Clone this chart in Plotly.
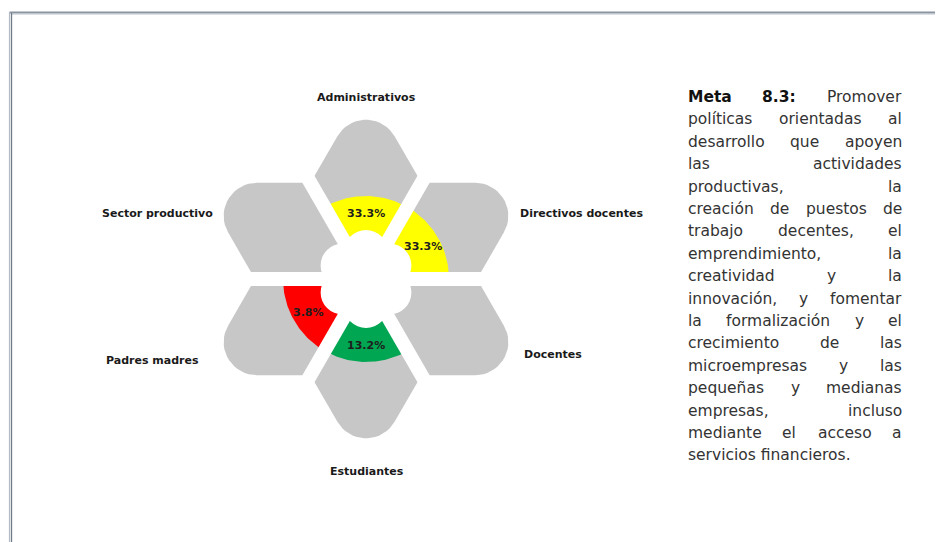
import numpy as np
import plotly.graph_objects as go

# ---------------- data ----------------
categories = ["Administrativos", "Directivos docentes", "Docentes",
              "Estudiantes", "Padres madres", "Sector productivo"]
values = [33.3, 33.3, None, 13.2, 3.8, None]
value_labels = ["33.3%", "33.3%", "", "13.2%", "3.8%", ""]

paragraph_lines = [
    ["<b>Meta</b>", "<b>8.3:</b>", "Promover"],
    ["políticas", "orientadas", "al"],
    ["desarrollo", "que", "apoyen"],
    ["las", "actividades"],
    ["productivas,", "la"],
    ["creación", "de", "puestos", "de"],
    ["trabajo", "decentes,", "el"],
    ["emprendimiento,", "la"],
    ["creatividad", "y", "la"],
    ["innovación,", "y", "fomentar"],
    ["la", "formalización", "y", "el"],
    ["crecimiento", "de", "las"],
    ["microempresas", "y", "las"],
    ["pequeñas", "y", "medianas"],
    ["empresas,", "incluso"],
    ["mediante", "el", "acceso", "a"],
    ["servicios financieros."],
]

# ---------------- style / layout ----------------
petal_angles = [90, 30, -30, -90, -150, 150]
fill_colors = ["#FFFF00", "#FFFF00", None, "#00A651", "#FF0000", None]
label_xy = [(366, 97), (581, 213), (553, 354), (367, 471), (152, 360), (157, 213)]

W, H = 943, 542
OFF = 8                    # page body margin
CX, CY = 366, 279          # flower centre (pixels)
L = 111                    # rhombus side
R_FILL = 83                # coloured band radius
R_LABEL = 66
GAP = 14
GREY = "#C8C7C8"


def to_screen(x, y):
    return CX + np.asarray(x), CY - np.asarray(y)


def rounded_poly(verts, radii, n=18):
    pts = []
    m = len(verts)
    for i in range(m):
        V = verts[i]
        P = verts[i - 1]
        N = verts[(i + 1) % m]
        r = radii[i]
        if r <= 0:
            pts.append(V)
            continue
        u1 = (P - V) / np.linalg.norm(P - V)
        u2 = (N - V) / np.linalg.norm(N - V)
        th = np.arccos(np.clip(np.dot(u1, u2), -1, 1))
        d = r / np.tan(th / 2)
        bis = (u1 + u2) / np.linalg.norm(u1 + u2)
        C = V + bis * r / np.sin(th / 2)
        T1 = V + u1 * d
        T2 = V + u2 * d
        a1 = np.arctan2(*(T1 - C)[::-1])
        a2 = np.arctan2(*(T2 - C)[::-1])
        da = (a2 - a1 + np.pi) % (2 * np.pi) - np.pi
        for t in np.linspace(0, 1, n):
            a = a1 + da * t
            pts.append(C + r * np.array([np.cos(a), np.sin(a)]))
    return np.array(pts)


def unit(deg):
    a = np.radians(deg)
    return np.array([np.cos(a), np.sin(a)])


fig = go.Figure()

# grey petals
for ang in petal_angles:
    O = np.array([0.0, 0.0])
    A = L * unit(ang - 30)
    F = L * np.sqrt(3) * unit(ang)
    B = L * unit(ang + 30)
    pts = rounded_poly([O, A, F, B], [0, 5, 33, 5])
    pts = np.vstack([pts, pts[:1]])
    xs, ys = to_screen(pts[:, 0], pts[:, 1])
    fig.add_trace(go.Scatter(x=xs, y=ys, mode="lines", fill="toself",
                             fillcolor=GREY, line=dict(width=0),
                             hoverinfo="skip"))

# coloured bands (one per category with a value)
for ang, val, col in zip(petal_angles, values, fill_colors):
    if val is None or col is None:
        continue
    t = np.radians(np.linspace(ang - 30, ang + 30, 60))
    px = np.concatenate([[0], R_FILL * np.cos(t), [0]])
    py = np.concatenate([[0], R_FILL * np.sin(t), [0]])
    xs, ys = to_screen(px, py)
    fig.add_trace(go.Scatter(x=xs, y=ys, mode="lines", fill="toself",
                             fillcolor=col, line=dict(width=0),
                             hoverinfo="skip"))

shapes = []
# white gaps between petals
for a in (0, 60, 120):
    u = unit(a) * 200
    x0, y0 = to_screen(u[0], u[1])
    x1, y1 = to_screen(-u[0], -u[1])
    shapes.append(dict(type="line", x0=float(x0), y0=float(y0), x1=float(x1), y1=float(y1),
                       line=dict(color="white", width=GAP), layer="above"))


def circle(cx, cy, r):
    return dict(type="circle", x0=cx - r, x1=cx + r, y0=cy - r, y1=cy + r,
                fillcolor="white", line=dict(width=0), layer="above")


# white centre flower
shapes.append(circle(CX, CY, 34))
for ang in petal_angles:
    c = 27 * unit(ang)
    sx, sy = to_screen(c[0], c[1])
    shapes.append(circle(float(sx), float(sy), 22))

# frame
shapes += [
    dict(type="line", x0=9.5, x1=W + 20, y0=12.5, y1=12.5, line=dict(color="#8A94A0", width=2)),
    dict(type="line", x0=11, x1=W + 20, y0=14, y1=14, line=dict(color="#B9C0C8", width=1)),
    dict(type="line", x0=9.5, x1=9.5, y0=12, y1=H + 20, line=dict(color="#B4BBC4", width=1.2)),
    dict(type="line", x0=11.5, x1=11.5, y0=13, y1=H + 20, line=dict(color="#6F7A88", width=1.3)),
]

annotations = []
# value labels
for ang, lab in zip(petal_angles, value_labels):
    if not lab:
        continue
    p = R_LABEL * unit(ang)
    sx, sy = to_screen(p[0], p[1])
    annotations.append(dict(x=float(sx), y=float(sy), text=f"<b>{lab}</b>", showarrow=False,
                            font=dict(family="DejaVu Sans", size=11, color="#1E1E1E"),
                            xanchor="center", yanchor="middle"))
# category labels
for cat, (lx, ly) in zip(categories, label_xy):
    annotations.append(dict(x=lx, y=ly, text=f"<b>{cat}</b>", showarrow=False,
                            font=dict(family="DejaVu Sans", size=11, color="#1A1A1A"),
                            xanchor="center", yanchor="middle"))

# paragraph (justified)
CW = {" ": .318, "a": .613, "b": .635, "c": .550, "d": .635, "e": .615, "f": .352,
      "g": .635, "h": .634, "i": .278, "j": .278, "k": .579, "l": .278, "m": .974,
      "n": .634, "o": .612, "p": .635, "q": .635, "r": .411, "s": .521, "t": .392,
      "u": .634, "v": .592, "w": .818, "x": .592, "y": .592, "z": .525, ",": .318,
      ".": .318, ":": .337, "M": .863, "P": .603, "í": .278, "ó": .612, "ñ": .634,
      "á": .613, "é": .615}
FS = 15.5
PX0, PX1 = 686, 904
PY0, PDY = 97, 22.4


def wwidth(w):
    bold = w.startswith("<b>")
    s = w.replace("<b>", "").replace("</b>", "")
    base = sum(CW.get(ch, .62) for ch in s) * FS
    return base * (1.12 if bold else 1.0)


for i, words in enumerate(paragraph_lines):
    y = PY0 + i * PDY
    widths = [wwidth(w) for w in words]
    gap = (PX1 - PX0 - sum(widths)) / max(len(words) - 1, 1)
    x = PX0
    for j, (w, wd) in enumerate(zip(words, widths)):
        if j == 0:
            ax, anch = PX0, "left"
        elif j == len(words) - 1:
            ax, anch = PX1, "right"
        else:
            ax, anch = x + wd / 2, "center"
        annotations.append(dict(x=ax, y=y, text=w, showarrow=False, xanchor=anch,
                                yanchor="middle",
                                font=dict(family="DejaVu Sans", size=FS,
                                          color="#111111" if w.startswith("<b>") else "#333333")))
        x += wd + gap

fig.update_layout(
    width=W, height=H, margin=dict(l=0, r=0, t=0, b=0),
    paper_bgcolor="white", plot_bgcolor="white", showlegend=False,
    xaxis=dict(range=[OFF, W + OFF], visible=False, fixedrange=True),
    yaxis=dict(range=[H + OFF, OFF], visible=False, fixedrange=True),
    shapes=shapes, annotations=annotations,
)

fig.write_html("out.html")
